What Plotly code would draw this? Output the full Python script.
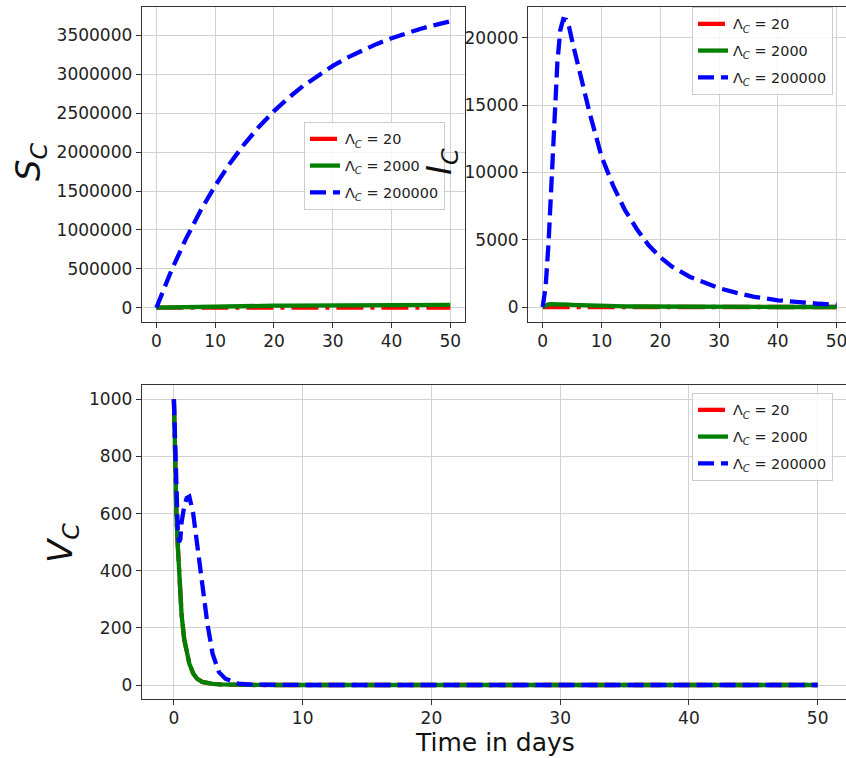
import plotly.graph_objects as go

# ---- data -------------------------------------------------------------
labels = ["Λ<sub><i>C</i></sub> = 20", "Λ<sub><i>C</i></sub> = 2000", "Λ<sub><i>C</i></sub> = 200000"]

t_s = [0, 2.5, 5, 7.5, 10, 12.5, 15, 17.5, 20, 22.5, 25, 27.5, 30, 32.5, 35, 37.5, 40, 42.5, 45, 47.5, 50]
s_20 = [0, 47, 88, 125, 157, 186, 211, 233, 253, 270, 285, 299, 311, 322, 331, 339, 347, 353, 359, 364, 368]
s_2000 = [0, 4690, 8820, 12460, 15680, 18550, 21070, 23300, 25270, 27000, 28540, 29900,
          31090, 32160, 33090, 33920, 34650, 35300, 35870, 36370, 36820]
s_200000 = [0, 469000, 882000, 1246000, 1568000, 1855000, 2107000, 2330000, 2527000, 2700000,
            2854000, 2990000, 3109000, 3216000, 3309000, 3392000, 3465000, 3530000, 3587000,
            3637000, 3682000]

t_i = [0, 0.5, 1, 1.5, 2, 2.5, 3, 3.5, 4, 4.5, 5, 6, 7, 8, 9, 10, 12, 14, 16, 18, 20, 22,
       25, 28, 30, 33, 36, 40, 44, 47, 50]
i_20 = [0, 1.2, 1.9, 2.2, 2.2, 2.2, 2.1, 2.0, 1.9, 1.8, 1.7, 1.5, 1.3, 1.1, 1.0, 0.8, 0.6,
        0.5, 0.4, 0.3, 0.2, 0.15, 0.1, 0.06, 0.05, 0.03, 0.02, 0.01, 0.01, 0, 0]
i_2000 = [0, 120, 190, 215, 220, 215, 205, 195, 185, 175, 165, 145, 125, 110, 95, 82, 62,
          47, 36, 27, 20, 15, 10, 6, 5, 3, 2, 1, 1, 0, 0]
i_200000 = [0, 1500, 4800, 9500, 14000, 18200, 20600, 21400, 21350, 20800, 19800, 17900,
            16100, 14400, 12800, 11200, 9000, 7200, 5800, 4600, 3700, 3000, 2250, 1700,
            1400, 1050, 750, 500, 330, 240, 170]

t_v = [0, 0.1, 0.2, 0.3, 0.4, 0.5, 0.6, 0.8, 1.0, 1.2, 1.5, 1.8, 2.2, 2.6, 3.0, 3.5, 4,
       5, 6, 8, 10, 15, 20, 25, 30, 35, 40, 45, 50]
v_20 = [1000, 760, 590, 490, 400, 290, 245, 160, 120, 75, 40, 22, 11, 6, 4, 2, 1,
        0.3, 0.1, 0, 0, 0, 0, 0, 0, 0, 0, 0, 0]
v_2000 = [1000, 760, 590, 490, 400, 290, 245, 160, 120, 75, 40, 22, 11, 6, 4, 2, 1,
          0.3, 0.1, 0, 0, 0, 0, 0, 0, 0, 0, 0, 0]
v_200000 = [1000, 800, 650, 545, 500, 510, 570, 625, 655, 660, 600, 500, 345, 215, 110,
            45, 22, 5, 1.5, 0.3, 0, 0, 0, 0, 0, 0, 0, 0, 0]

x_ticks = [0, 10, 20, 30, 40, 50]

# ---- styling ------------------------------------------------------------
FONT = "DejaVu Sans"
styles = [
    dict(color="red", width=4.3, dash="27px,7px,4px,7px"),
    dict(color="green", width=4.3, dash="solid"),
    dict(color="blue", width=4.3, dash="16px,7px"),
]

fig = go.Figure()

panels = [
    ("x", "y", "legend", t_s, [s_20, s_2000, s_200000]),
    ("x2", "y2", "legend2", t_i, [i_20, i_2000, i_200000]),
    ("x3", "y3", "legend3", t_v, [v_20, v_2000, v_200000]),
]
for xa, ya, lg, tt, series in panels:
    for k, (lab, ys) in enumerate(zip(labels, series)):
        fig.add_trace(go.Scatter(
            x=tt, y=ys, mode="lines", name=lab, line=styles[k],
            xaxis=xa, yaxis=ya, legend=lg, legendgroup=f"{lg}_{k}",
        ))

grid = "#d2d2d2"
tickfont = dict(family=FONT, size=17, color="#222222")


def xax(domain, rng, anchor):
    return dict(domain=domain, range=rng, anchor=anchor, tickvals=x_ticks,
                showgrid=True, gridcolor=grid, gridwidth=1, zeroline=False,
                showline=True, mirror=True, linecolor="#333333", linewidth=1,
                ticks="outside", ticklen=5, tickcolor="#333333",
                tickfont=tickfont, automargin=False, ticklabeloverflow="allow",
                ticklabelstandoff=-1)


def yax(domain, rng, anchor, tickvals, mirror):
    return dict(domain=domain, range=rng, anchor=anchor, tickvals=tickvals,
                tickformat="d",
                showgrid=True, gridcolor=grid, gridwidth=1, zeroline=False,
                showline=True, mirror=mirror, linecolor="#333333", linewidth=1,
                ticks="outside", ticklen=5, tickcolor="#333333",
                tickfont=tickfont, automargin=False)


W, H = 846, 758
legend_common = dict(
    bgcolor="rgba(255,255,255,0.8)", bordercolor="#cccccc", borderwidth=1,
    font=dict(family=FONT, size=14.4, color="#222222"),
    xanchor="left", yanchor="top", tracegroupgap=5, itemwidth=30,
)

fig.update_layout(
    width=W, height=H,
    margin=dict(l=0, r=0, t=0, b=0),
    paper_bgcolor="white", plot_bgcolor="white",
    font=dict(family=FONT),
    xaxis=xax([141.7 / W, 465 / W], [-2.5, 52.5], "y"),
    yaxis=yax([1 - 322 / H, 1 - 7 / H], [-184000, 3866000], "x",
              [0, 500000, 1000000, 1500000, 2000000, 2500000, 3000000, 3500000], True),
    xaxis2=xax([528 / W, 1.0], [-2.5, 51.6], "y2"),
    yaxis2=yax([1 - 322 / H, 1 - 7 / H], [-1115, 22300], "x2",
               [0, 5000, 10000, 15000, 20000], False),
    xaxis3=xax([141.7 / W, 1.0], [-2.5, 52.2], "y3"),
    yaxis3=yax([1 - 699 / H, 1 - 385 / H], [-49, 1050], "x3",
               [0, 200, 400, 600, 800, 1000], False),
    legend=dict(x=304 / W, y=1 - 122 / H, **legend_common),
    legend2=dict(x=692 / W, y=1 - 7 / H, **legend_common),
    legend3=dict(x=692 / W, y=1 - 393 / H, **legend_common),
)

# axis titles
titles = [
    ("<i>S<sub>C</sub></i>", 30, 162, -90, 34),
    ("<i>I<sub>C</sub></i>", 441, 162, -90, 34),
    ("<i>V<sub>C</sub></i>", 62, 543, -90, 34),
    ("Time in days", 495, 742, 0, 25),
]
for txt, px, py, ang, sz in titles:
    fig.add_annotation(
        text=txt, x=px / W, y=1 - py / H, xref="paper", yref="paper",
        xanchor="center", yanchor="middle", showarrow=False, textangle=ang,
        font=dict(family=FONT, size=sz, color="#111111"),
    )

fig.write_html("out.html")
